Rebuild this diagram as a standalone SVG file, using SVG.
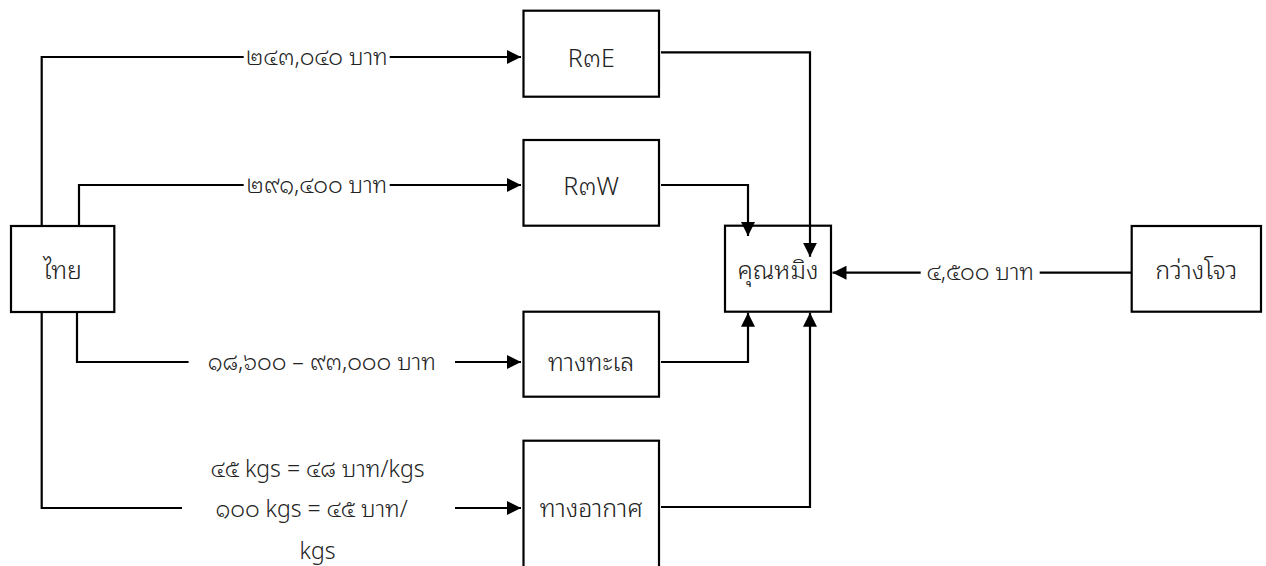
<svg xmlns="http://www.w3.org/2000/svg" width="1266" height="566" viewBox="0 0 1266 566">
<defs>
<marker id="arr" viewBox="0 0 14 14" refX="14" refY="7" markerWidth="14" markerHeight="14" markerUnits="userSpaceOnUse" orient="auto">
<path d="M0,0 L14,7 L0,14 Z" fill="#000"/>
</marker>
<style>
.box{fill:#fff;stroke:#000;stroke-width:2.2}
.edge{fill:none;stroke:#000;stroke-width:2.2;marker-end:url(#arr)}
.nt{font-family:"Noto Sans Thai Looped","Loma","Garuda","Noto Sans Thai","Noto Sans",sans-serif;font-size:25px;font-weight:300;fill:#222;text-anchor:middle;dominant-baseline:central}
.lt{font-family:"Noto Sans Thai Looped","Loma","Garuda","Noto Sans Thai","Noto Sans",sans-serif;font-size:23px;font-weight:300;fill:#222;text-anchor:middle;dominant-baseline:central}
.bg{fill:#fff}
</style>
</defs>
<rect width="1266" height="566" fill="#fff"/>
<g id="thai"><rect class="box" x="11" y="226" width="103.3" height="86"/><text class="nt" x="62.5" y="268">ไทย</text></g>
<g id="r3e"><rect class="box" x="523.5" y="10.7" width="135.5" height="86"/><text class="nt" x="591.2" y="56">R๓E</text></g>
<g id="r3w"><rect class="box" x="523.5" y="140" width="135.5" height="85.7"/><text class="nt" x="591.2" y="184">R๓W</text></g>
<g id="sea"><rect class="box" x="523.5" y="311.7" width="135.5" height="85"/><text class="nt" x="591.2" y="360">ทางทะเล</text></g>
<g id="air"><rect class="box" x="523.5" y="440.7" width="135.5" height="135"/><text class="nt" x="591.2" y="506">ทางอากาศ</text></g>
<g id="khunming"><rect class="box" x="725" y="225.7" width="106" height="86"/><text class="nt" x="778" y="268">คุณหมิง</text></g>
<g id="guangzhou"><rect class="box" x="1131.7" y="226" width="129.3" height="85.7"/><text class="nt" x="1196.3" y="268">กว่างโจว</text></g>
<g id="connectors">
<path class="edge" d="M41.7,226 V57 H521"/>
<path class="edge" d="M79,226 V185 H521"/>
<path class="edge" d="M77,312 V362 H521"/>
<path class="edge" d="M41.7,312 V508 H521"/>
<path class="edge" d="M661,52.3 H810 V256.7"/>
<path class="edge" d="M661,185 H748 V236"/>
<path class="edge" d="M661,362 H748 V312.7"/>
<path class="edge" d="M661,507 H810 V312.7"/>
<path class="edge" d="M1131,272.7 H832.5"/>
<rect class="bg" x="243.7" y="45" width="146" height="24"/>
<text class="lt" x="316.8" y="54">๒๔๓,๐๔๐ บาท</text>
<rect class="bg" x="243.7" y="173" width="146" height="24"/>
<text class="lt" x="316.8" y="182">๒๙๑,๔๐๐ บาท</text>
<rect class="bg" x="188.6" y="350" width="266.4" height="24"/>
<text class="lt" x="321.8" y="359">๑๘,๖๐๐ – ๙๓,๐๐๐ บาท</text>
<rect class="bg" x="182" y="450" width="273" height="116"/>
<text class="lt" x="317.5" y="466.5">๔๕ kgs = ๔๘ บาท/kgs</text>
<text class="lt" x="311.6" y="506">๑๐๐ kgs = ๔๕ บาท/</text>
<text class="lt" x="317.5" y="548">kgs</text>
<rect class="bg" x="920.7" y="261" width="119" height="24"/>
<text class="lt" x="980.2" y="269.5">๔,๕๐๐ บาท</text>
</g>
</svg>
